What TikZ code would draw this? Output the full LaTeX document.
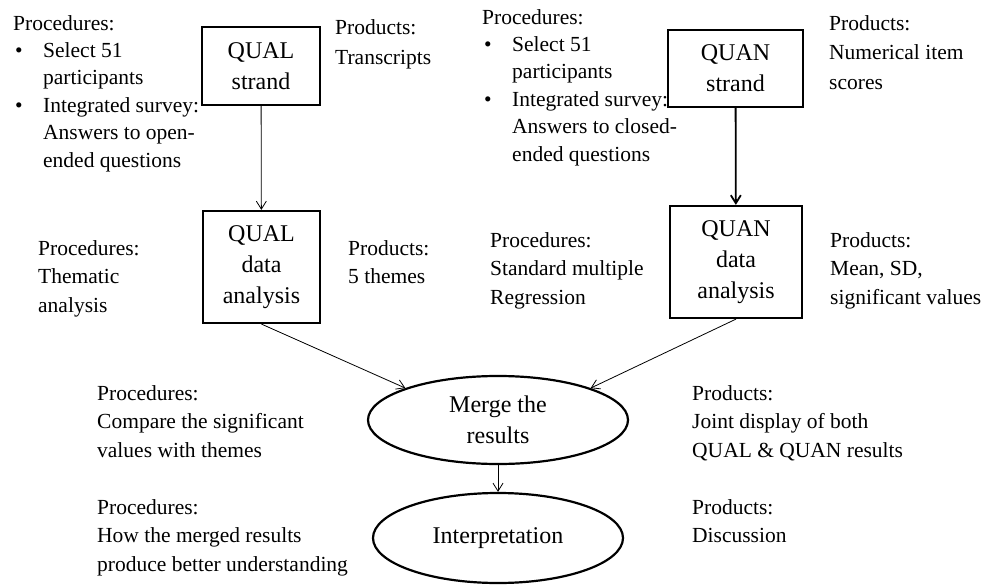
\documentclass[tikz,border=0pt]{standalone}
\usepackage{fontspec}
\setmainfont{Liberation Serif}
\usetikzlibrary{shapes.geometric,arrows.meta}

\newcommand{\bitem}[1]{\hspace*{2pt}\makebox[28pt][l]{\textbullet}#1}
\newcommand{\bcont}[1]{\hspace*{30pt}#1}

\begin{document}
\begin{tikzpicture}[x=1pt,y=-1pt,
  every node/.style={inner sep=0pt},
  txt/.style={anchor=north west,align=left,font=\fontsize{21.5}{28.5}\selectfont},
  toptxt/.style={txt,font=\fontsize{21.5}{27.4}\selectfont},
  stagebox/.style={draw,line width=2.2pt,align=center,font=\fontsize{24}{31}\selectfont},
  oval/.style={draw,ellipse,line width=2.2pt,align=center,font=\fontsize{24}{31}\selectfont},
  arr/.style={-{Straight Barb[length=8pt,width=10pt]},line width=0.8pt}]
\useasboundingbox (0,0) rectangle (984,585);
\node [stagebox,minimum width=118pt,minimum height=78pt] (qualstrand) at (261,66) {QUAL\\strand};
\node [stagebox,minimum width=135pt,minimum height=77pt] (quanstrand) at (735.5,68.5) {QUAN\\strand};
\node [stagebox,minimum width=117pt,minimum height=112pt] (qualdata) at (261.5,267) {QUAL\\data\\analysis};
\node [stagebox,minimum width=132pt,minimum height=112pt] (quandata) at (736,262) {QUAN\\data\\analysis};
\node [oval,minimum width=260pt,minimum height=88pt] (merge) at (498,420) {Merge the\\results};
\node [oval,minimum width=250pt,minimum height=90pt] (interp) at (498,538) {Interpretation};
\node [toptxt] (procqual) at (13,15) {Procedures:\\\bitem{Select 51}\\\bcont{participants}\\\bitem{Integrated survey:}\\\bcont{Answers to open-}\\\bcont{ended questions}};
\node [txt,font=\fontsize{21.5}{30}\selectfont] (prodqual) at (335,19) {Products:\\Transcripts};
\node [toptxt] (procquan) at (482,9) {Procedures:\\\bitem{Select 51}\\\bcont{participants}\\\bitem{Integrated survey:}\\\bcont{Answers to closed-}\\\bcont{ended questions}};
\node [txt,font=\fontsize{21.5}{29.5}\selectfont] (prodquan) at (829,15) {Products:\\Numerical item\\scores};
\node [txt] (procqualdata) at (38,240) {Procedures:\\Thematic\\analysis};
\node [txt] (prodqualdata) at (348,240) {Products:\\5 themes};
\node [txt] (procquandata) at (490,232) {Procedures:\\Standard multiple\\Regression};
\node [txt] (prodquandata) at (830,232) {Products:\\Mean, SD,\\significant values};
\node [txt] (procmerge) at (97,385) {Procedures:\\Compare the significant\\values with themes};
\node [txt] (prodmerge) at (692,385) {Products:\\Joint display of both\\QUAL \& QUAN results};
\node [txt] (procinterp) at (97,499) {Procedures:\\How the merged results\\produce better understanding};
\node [txt] (prodinterp) at (692,499) {Products:\\Discussion};
\draw [arr] (qualstrand) -- (qualdata);
\draw [arr,line width=1.8pt] (quanstrand) -- (quandata);
\draw [arr] (qualdata.south) -- (merge.161);
\draw [arr] (quandata.south) -- (merge.19);
\draw [arr] (merge) -- (interp);
\end{tikzpicture}
\end{document}
